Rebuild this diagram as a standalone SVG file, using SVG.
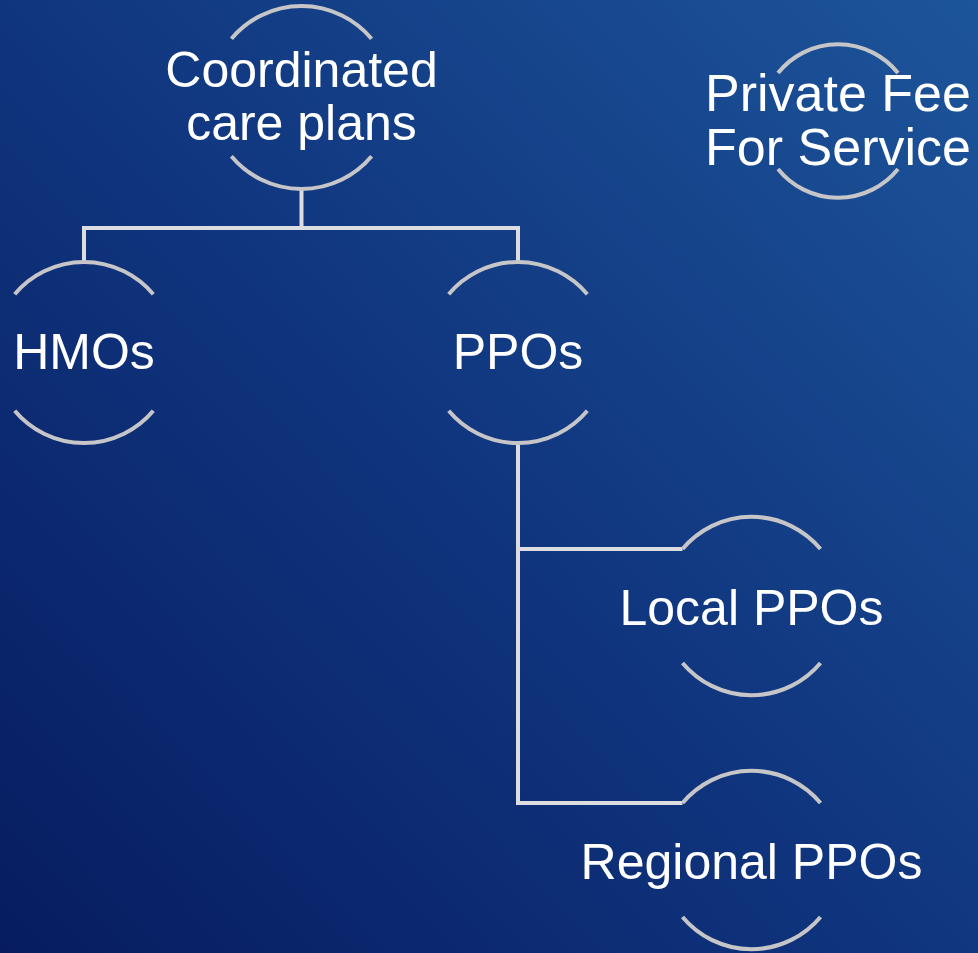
<svg xmlns="http://www.w3.org/2000/svg" width="978" height="953" viewBox="0 0 978 953">
  <defs>
    <linearGradient id="bg" gradientUnits="userSpaceOnUse" x1="0" y1="953" x2="978" y2="0">
      <stop offset="0" stop-color="#071c60"/>
      <stop offset="0.5" stop-color="#10367f"/>
      <stop offset="1" stop-color="#1d559a"/>
    </linearGradient>
    <style>
      .arc { fill: none; stroke: #c6c6c8; stroke-width: 4; }
      .conn { fill: none; stroke: #dcdde0; stroke-width: 4; }
      .label { font-family: "Liberation Sans", Arial, sans-serif; font-size: 50px; fill: #ffffff; text-anchor: middle; }
      .big { font-size: 52px; }
    </style>
  </defs>
  <rect x="0" y="0" width="978" height="953" fill="url(#bg)"/>

  <g id="connectors">
    <path class="conn" d="M301.5 189 V228"/>
    <path class="conn" d="M84 262 V228 H518 V262"/>
    <path class="conn" d="M518 443 V803 H682.5"/>
    <path class="conn" d="M518 549 H682.5"/>
  </g>

  <g id="node-coordinated">
    <path class="arc" d="M231.4 38.7 A91.5 91.5 0 0 1 371.6 38.7"/>
    <path class="arc" d="M231.4 156.3 A91.5 91.5 0 0 0 371.6 156.3"/>
    <text class="label" x="301.5" y="87">Coordinated</text>
    <text class="label" x="301.5" y="140">care plans</text>
  </g>

  <g id="node-private">
    <path class="arc" d="M778 73 A77 77 0 0 1 898 73"/>
    <path class="arc" d="M778 169 A77 77 0 0 0 898 169"/>
    <text class="label big" x="838" y="111">Private Fee</text>
    <text class="label big" x="838" y="165">For Service</text>
  </g>

  <g id="node-hmos">
    <path class="arc" d="M14.7 294.3 A90.5 90.5 0 0 1 153.3 294.3"/>
    <path class="arc" d="M14.7 410.7 A90.5 90.5 0 0 0 153.3 410.7"/>
    <text class="label" x="84" y="369">HMOs</text>
  </g>

  <g id="node-ppos">
    <path class="arc" d="M448.7 294.3 A90.5 90.5 0 0 1 587.3 294.3"/>
    <path class="arc" d="M448.7 410.7 A90.5 90.5 0 0 0 587.3 410.7"/>
    <text class="label" x="518" y="369">PPOs</text>
  </g>

  <g id="node-local">
    <path class="arc" d="M682.5 549 A90 90 0 0 1 820.5 549"/>
    <path class="arc" d="M682.5 663 A90 90 0 0 0 820.5 663"/>
    <text class="label" x="751.5" y="625">Local PPOs</text>
  </g>

  <g id="node-regional">
    <path class="arc" d="M682.5 803 A90 90 0 0 1 820.5 803"/>
    <path class="arc" d="M682.5 917 A90 90 0 0 0 820.5 917"/>
    <text class="label" x="751.5" y="879">Regional PPOs</text>
  </g>
</svg>
